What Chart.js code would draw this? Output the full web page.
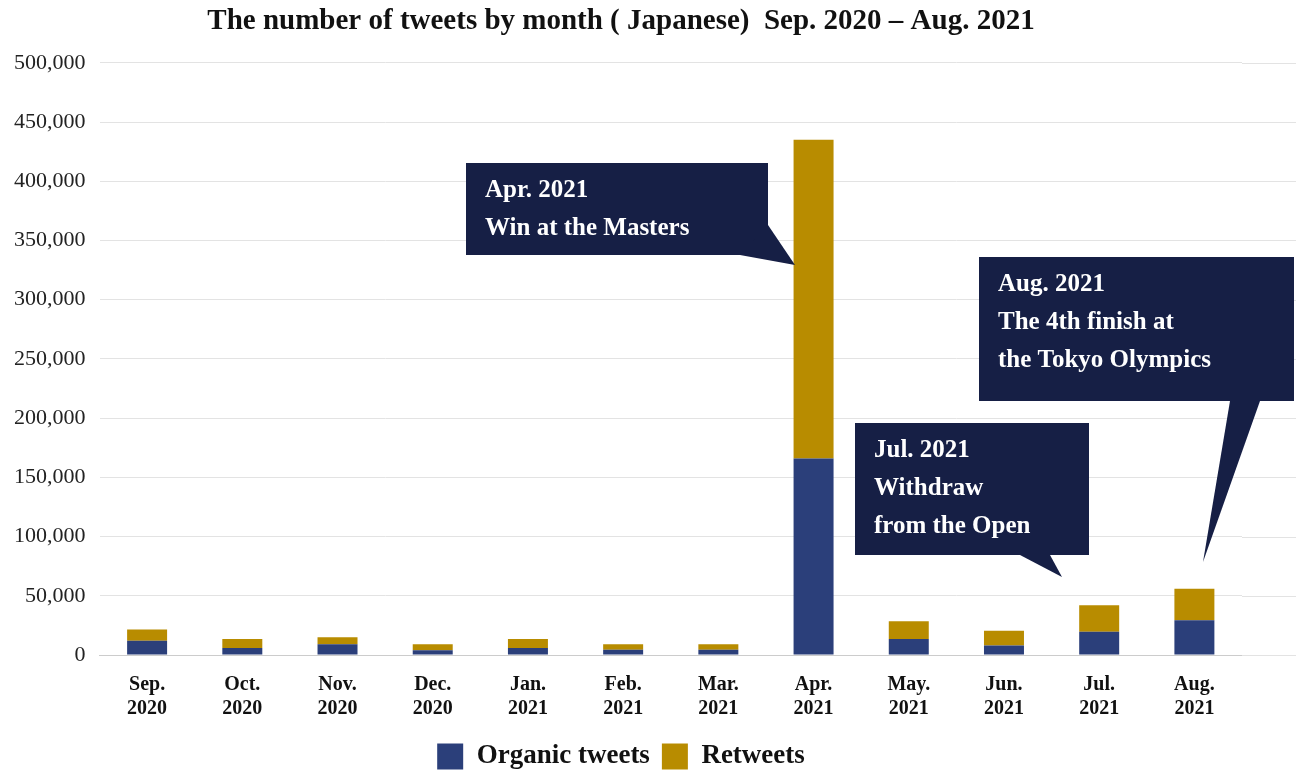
<!DOCTYPE html>
<html>
<head>
<meta charset="utf-8">
<script src="https://cdn.jsdelivr.net/npm/chart.js@4.4.0/dist/chart.umd.min.js"></script>
<style>
  body { margin: 0; background: #fff; }
  #c { display: block; }
</style>
</head>
<body>
<canvas id="c" width="1298" height="784"></canvas>
<script>
const months = [["Sep.","2020"],["Oct.","2020"],["Nov.","2020"],["Dec.","2020"],["Jan.","2021"],["Feb.","2021"],
  ["Mar.","2021"],["Apr.","2021"],["May.","2021"],["Jun.","2021"],["Jul.","2021"],["Aug.","2021"]];
const organic = [12000, 6000, 9000, 4000, 6000, 4500, 4500, 166000, 13500, 8000, 19600, 29400];
const retweets = [9500, 7500, 6000, 5000, 7500, 4500, 4500, 269000, 15000, 12500, 22400, 26600];

// callouts: text lines, box [x1,y1,x2,y2] in pixels, pointer base [a,b] and target month index
const callouts = [
  { lines: ["Apr. 2021", "Win at the Masters"], box: [466, 163, 768, 255], base: [[740, 255], [768, 225]], idx: 7, tip: [795, 265] },
  { lines: ["Aug. 2021", "The 4th finish at", "the Tokyo Olympics"], box: [979, 257, 1294, 401], base: [[1230, 401], [1260, 401]], idx: 11, tip: [1203, 562] },
  { lines: ["Jul. 2021", "Withdraw", "from the Open"], box: [855, 423, 1089, 555], base: [[1020, 555], [1050, 555]], idx: 10, tip: [1062, 577] }
];

const SERIF = "'Liberation Serif', 'DejaVu Serif', serif";
const NAVY = "#2b3f7a", GOLD = "#b88c00", BOX = "#161f45";

const extras = {
  id: "extras",
  beforeDatasetsDraw(chart) {
    // extend gridlines past the last category
    const { ctx, chartArea, scales } = chart;
    ctx.save();
    ctx.strokeStyle = "#e3e3e3";
    ctx.lineWidth = 1;
    scales.y.ticks.forEach(t => {
      const y = Math.round(scales.y.getPixelForValue(t.value)) + 0.5;
      ctx.beginPath();
      ctx.moveTo(chartArea.right, y);
      ctx.lineTo(1296, y);
      ctx.stroke();
    });
    ctx.restore();
  },
  afterDraw(chart) {
    const ctx = chart.ctx;
    ctx.save();
    ctx.fillStyle = BOX;
    callouts.forEach(c => {
      const [x1, y1, x2, y2] = c.box;
      ctx.fillRect(x1, y1, x2 - x1, y2 - y1);
      ctx.beginPath();
      ctx.moveTo(c.base[0][0], c.base[0][1]);
      ctx.lineTo(c.tip[0], c.tip[1]);
      ctx.lineTo(c.base[1][0], c.base[1][1]);
      ctx.closePath();
      ctx.fill();
    });
    ctx.fillStyle = "#fff";
    ctx.font = "bold 25px " + SERIF;
    ctx.textBaseline = "middle";
    callouts.forEach(c => {
      c.lines.forEach((l, i) => ctx.fillText(l, c.box[0] + 19, c.box[1] + 28 + i * 38));
    });
    ctx.restore();
  }
};

new Chart(document.getElementById("c"), {
  type: "bar",
  data: {
    labels: months,
    datasets: [
      { label: "Organic tweets", data: organic, backgroundColor: NAVY },
      { label: "Retweets", data: retweets, backgroundColor: GOLD }
    ]
  },
  options: {
    responsive: false,
    animation: false,
    barPercentage: 0.42,
    categoryPercentage: 1,
    layout: { padding: { left: 0, right: 56, top: 0, bottom: 4 } },
    plugins: {
      title: {
        display: true,
        text: "The number of tweets by month ( Japanese)  Sep. 2020 – Aug. 2021",
        color: "#111",
        font: { family: SERIF, size: 29, weight: "bold" },
        padding: { top: 4, bottom: 24 }
      },
      legend: {
        position: "bottom",
        labels: {
          color: "#111",
          font: { family: SERIF, size: 27, weight: "bold" },
          boxWidth: 26, boxHeight: 26, padding: 12
        }
      },
      tooltip: { enabled: false }
    },
    scales: {
      x: {
        stacked: true,
        grid: { display: false },
        border: { color: "#ccc" },
        ticks: { color: "#111", font: { family: SERIF, size: 20, weight: "bold" }, maxRotation: 0, padding: 10 }
      },
      y: {
        stacked: true,
        min: 0, max: 500000,
        ticks: { stepSize: 50000, color: "#222", font: { family: SERIF, size: 22 }, padding: 14,
          callback: v => v.toLocaleString("en-US") },
        grid: { color: "#e3e3e3", drawTicks: false },
        border: { display: false }
      }
    }
  },
  plugins: [extras]
});
</script>
</body>
</html>
